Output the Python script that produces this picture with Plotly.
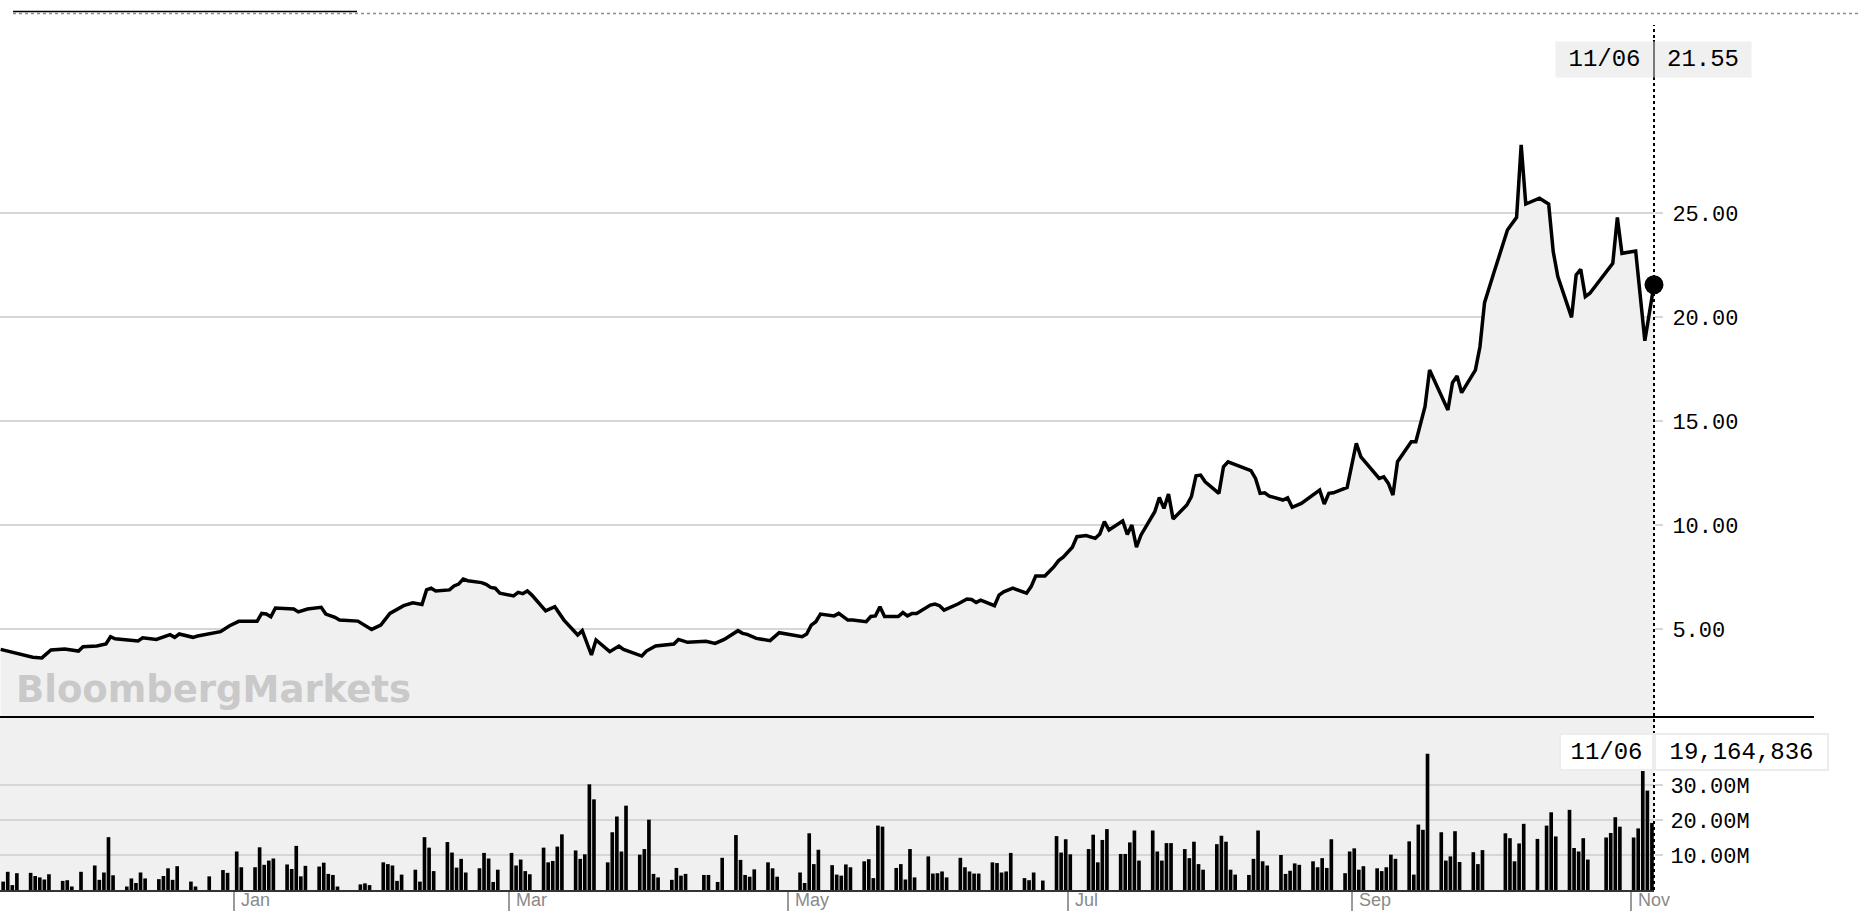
import plotly.graph_objects as go
import numpy as np
import pandas as pd

# ---------------- data ----------------
price_dates = [
    "2019-11-11", "2019-11-13", "2019-11-18", "2019-11-20", "2019-11-22", "2019-11-25", "2019-11-28", "2019-11-29",
    "2019-12-02", "2019-12-04", "2019-12-05", "2019-12-06", "2019-12-09", "2019-12-11", "2019-12-12", "2019-12-15",
    "2019-12-18", "2019-12-19", "2019-12-20", "2019-12-23", "2019-12-24", "2019-12-29", "2019-12-31",
    "2020-01-02", "2020-01-06", "2020-01-07", "2020-01-08", "2020-01-09", "2020-01-10", "2020-01-14", "2020-01-15",
    "2020-01-17", "2020-01-20", "2020-01-21", "2020-01-23", "2020-01-24", "2020-01-28", "2020-01-31",
    "2020-02-02", "2020-02-04", "2020-02-07", "2020-02-09", "2020-02-11", "2020-02-12", "2020-02-13", "2020-02-14",
    "2020-02-17", "2020-02-18", "2020-02-19", "2020-02-20", "2020-02-21", "2020-02-24", "2020-02-25", "2020-02-26",
    "2020-02-27", "2020-02-28",
    "2020-03-02", "2020-03-03", "2020-03-04", "2020-03-05", "2020-03-06", "2020-03-09", "2020-03-11", "2020-03-13",
    "2020-03-16", "2020-03-17", "2020-03-19", "2020-03-20", "2020-03-23", "2020-03-25", "2020-03-26", "2020-03-30",
    "2020-03-31",
    "2020-04-02", "2020-04-06", "2020-04-07", "2020-04-09", "2020-04-13", "2020-04-15", "2020-04-17", "2020-04-20",
    "2020-04-21", "2020-04-22", "2020-04-24", "2020-04-27", "2020-04-29",
    "2020-05-04", "2020-05-05", "2020-05-06", "2020-05-07", "2020-05-08", "2020-05-11", "2020-05-12", "2020-05-14",
    "2020-05-15", "2020-05-18", "2020-05-19", "2020-05-20", "2020-05-21", "2020-05-22", "2020-05-25", "2020-05-26",
    "2020-05-27", "2020-05-28", "2020-05-29",
    "2020-06-01", "2020-06-02", "2020-06-03", "2020-06-04", "2020-06-07", "2020-06-09", "2020-06-10", "2020-06-11",
    "2020-06-12", "2020-06-15", "2020-06-16", "2020-06-17", "2020-06-19", "2020-06-22", "2020-06-23", "2020-06-24",
    "2020-06-26", "2020-06-28", "2020-06-29", "2020-06-30",
    "2020-07-02", "2020-07-03", "2020-07-05", "2020-07-07", "2020-07-08", "2020-07-09", "2020-07-10", "2020-07-13",
    "2020-07-14", "2020-07-15", "2020-07-16", "2020-07-17", "2020-07-20", "2020-07-21", "2020-07-22", "2020-07-23",
    "2020-07-24", "2020-07-27", "2020-07-28", "2020-07-29", "2020-07-30", "2020-07-31",
    "2020-08-03", "2020-08-04", "2020-08-05", "2020-08-10", "2020-08-11", "2020-08-12", "2020-08-13", "2020-08-14",
    "2020-08-17", "2020-08-18", "2020-08-19", "2020-08-21", "2020-08-25", "2020-08-26", "2020-08-27", "2020-08-28",
    "2020-08-31",
    "2020-09-02", "2020-09-03", "2020-09-07", "2020-09-08", "2020-09-09", "2020-09-10", "2020-09-11", "2020-09-14",
    "2020-09-15", "2020-09-17", "2020-09-18", "2020-09-22", "2020-09-23", "2020-09-24", "2020-09-25", "2020-09-28",
    "2020-09-29", "2020-09-30",
    "2020-10-02", "2020-10-05", "2020-10-07", "2020-10-08", "2020-10-09", "2020-10-12", "2020-10-14", "2020-10-15",
    "2020-10-16", "2020-10-19", "2020-10-20", "2020-10-21", "2020-10-22", "2020-10-23", "2020-10-28", "2020-10-29",
    "2020-10-30",
    "2020-11-02", "2020-11-04", "2020-11-06",
]
price_values = [
    4.02, 3.91, 3.64, 3.61, 3.99, 4.04, 3.94, 4.15,
    4.18, 4.28, 4.63, 4.53, 4.47, 4.42, 4.58, 4.50,
    4.73, 4.60, 4.76, 4.60, 4.66, 4.87, 5.16,
    5.37, 5.37, 5.75, 5.72, 5.59, 6.01, 5.96, 5.82,
    5.96, 6.04, 5.72, 5.56, 5.43, 5.38, 4.98,
    5.19, 5.75, 6.12, 6.26, 6.18, 6.88, 6.96, 6.83,
    6.88, 7.07, 7.16, 7.40, 7.32, 7.23, 7.15, 7.00,
    6.96, 6.72,
    6.59, 6.76, 6.70, 6.83, 6.63, 5.87, 6.07, 5.43,
    4.71, 4.92, 3.75, 4.47, 3.91, 4.18, 4.02, 3.70,
    3.94,
    4.18, 4.28, 4.50, 4.36, 4.41, 4.31, 4.50, 4.92,
    4.79, 4.74, 4.55, 4.44, 4.82,
    4.63, 4.76, 5.19, 5.35, 5.72, 5.63, 5.75, 5.43,
    5.43, 5.35, 5.60, 5.63, 6.07, 5.60, 5.60, 5.79,
    5.63, 5.75, 5.75,
    6.15, 6.20, 6.12, 5.91, 6.20, 6.44, 6.42, 6.28,
    6.39, 6.12, 6.63, 6.79, 6.96, 6.72, 7.04, 7.55,
    7.55, 8.00, 8.29, 8.45,
    8.93, 9.44, 9.49, 9.36, 9.57, 10.16, 9.76, 10.19,
    9.55, 10.00, 8.93, 9.52, 10.64, 11.32, 10.80, 11.49,
    10.29, 10.96, 11.36, 12.37, 12.40, 12.08,
    11.52, 12.80, 13.04, 12.61, 12.24, 11.52, 11.55, 11.39,
    11.20, 11.31, 10.85, 11.04, 11.68, 11.01, 11.52, 11.55,
    11.81,
    13.93, 13.28, 12.24, 12.32, 12.00, 11.44, 13.04, 14.00,
    14.00, 15.69, 17.45, 15.53, 16.84, 17.16, 16.36, 17.45,
    18.57, 20.69,
    22.10, 24.18, 24.79, 28.27, 25.43, 25.71, 25.43, 23.14,
    21.94, 19.98, 22.02, 22.29, 20.98, 21.14, 22.58, 24.79,
    23.06,
    23.17, 18.86, 21.55,
]

volume_dates = [
    "2019-11-12", "2019-11-13", "2019-11-14", "2019-11-15",
    "2019-11-18", "2019-11-19", "2019-11-20", "2019-11-21", "2019-11-22",
    "2019-11-25", "2019-11-26", "2019-11-27", "2019-11-29",
    "2019-12-02", "2019-12-03", "2019-12-04", "2019-12-05", "2019-12-06",
    "2019-12-09", "2019-12-10", "2019-12-11", "2019-12-12", "2019-12-13",
    "2019-12-16", "2019-12-17", "2019-12-18", "2019-12-19", "2019-12-20",
    "2019-12-23", "2019-12-24", "2019-12-27",
    "2019-12-30", "2019-12-31", "2020-01-02", "2020-01-03",
    "2020-01-06", "2020-01-07", "2020-01-08", "2020-01-09", "2020-01-10",
    "2020-01-13", "2020-01-14", "2020-01-15", "2020-01-16", "2020-01-17",
    "2020-01-20", "2020-01-21", "2020-01-22", "2020-01-23", "2020-01-24",
    "2020-01-29", "2020-01-30", "2020-01-31",
    "2020-02-03", "2020-02-04", "2020-02-05", "2020-02-06", "2020-02-07",
    "2020-02-10", "2020-02-11", "2020-02-12", "2020-02-13", "2020-02-14",
    "2020-02-17", "2020-02-18", "2020-02-19", "2020-02-20", "2020-02-21",
    "2020-02-24", "2020-02-25", "2020-02-26", "2020-02-27", "2020-02-28",
    "2020-03-02", "2020-03-03", "2020-03-04", "2020-03-05", "2020-03-06",
    "2020-03-09", "2020-03-10", "2020-03-11", "2020-03-12", "2020-03-13",
    "2020-03-16", "2020-03-17", "2020-03-18", "2020-03-19", "2020-03-20",
    "2020-03-23", "2020-03-24", "2020-03-25", "2020-03-26", "2020-03-27",
    "2020-03-30", "2020-03-31", "2020-04-01", "2020-04-02", "2020-04-03",
    "2020-04-06", "2020-04-07", "2020-04-08", "2020-04-09",
    "2020-04-13", "2020-04-14", "2020-04-16", "2020-04-17",
    "2020-04-20", "2020-04-21", "2020-04-22", "2020-04-23", "2020-04-24",
    "2020-04-27", "2020-04-28", "2020-04-29",
    "2020-05-04", "2020-05-05", "2020-05-06", "2020-05-07", "2020-05-08",
    "2020-05-11", "2020-05-12", "2020-05-13", "2020-05-14", "2020-05-15",
    "2020-05-18", "2020-05-19", "2020-05-20", "2020-05-21", "2020-05-22",
    "2020-05-25", "2020-05-26", "2020-05-27", "2020-05-28", "2020-05-29",
    "2020-06-01", "2020-06-02", "2020-06-03", "2020-06-04", "2020-06-05",
    "2020-06-08", "2020-06-09", "2020-06-10", "2020-06-11", "2020-06-12",
    "2020-06-15", "2020-06-16", "2020-06-17", "2020-06-18", "2020-06-19",
    "2020-06-22", "2020-06-23", "2020-06-24", "2020-06-26",
    "2020-06-29", "2020-06-30", "2020-07-01", "2020-07-02",
    "2020-07-06", "2020-07-07", "2020-07-08", "2020-07-09", "2020-07-10",
    "2020-07-13", "2020-07-14", "2020-07-15", "2020-07-16", "2020-07-17",
    "2020-07-20", "2020-07-21", "2020-07-22", "2020-07-23", "2020-07-24",
    "2020-07-27", "2020-07-28", "2020-07-29", "2020-07-30", "2020-07-31",
    "2020-08-03", "2020-08-04", "2020-08-05", "2020-08-06", "2020-08-07",
    "2020-08-10", "2020-08-11", "2020-08-12", "2020-08-13", "2020-08-14",
    "2020-08-17", "2020-08-18", "2020-08-19", "2020-08-20", "2020-08-21",
    "2020-08-24", "2020-08-25", "2020-08-26", "2020-08-27", "2020-08-28",
    "2020-08-31", "2020-09-01", "2020-09-02", "2020-09-03", "2020-09-04",
    "2020-09-07", "2020-09-08", "2020-09-09", "2020-09-10", "2020-09-11",
    "2020-09-14", "2020-09-15", "2020-09-16", "2020-09-17", "2020-09-18",
    "2020-09-21", "2020-09-22", "2020-09-23", "2020-09-24", "2020-09-25",
    "2020-09-28", "2020-09-29", "2020-09-30",
    "2020-10-05", "2020-10-06", "2020-10-07", "2020-10-08", "2020-10-09",
    "2020-10-12", "2020-10-14", "2020-10-15", "2020-10-16",
    "2020-10-19", "2020-10-20", "2020-10-21", "2020-10-22", "2020-10-23",
    "2020-10-27", "2020-10-28", "2020-10-29", "2020-10-30",
    "2020-11-02", "2020-11-03", "2020-11-04", "2020-11-05", "2020-11-06",
]
volume_millions = [
    2.4, 5.2, 1.4, 4.8,
    4.9, 4.0, 3.6, 3.0, 4.5,
    2.6, 2.8, 1.0, 5.2,
    7.0, 2.9, 5.0, 15.1, 4.2,
    1.0, 3.3, 2.0, 5.0, 3.3,
    3.1, 4.0, 6.2, 2.9, 6.8,
    2.4, 1.0, 3.9,
    5.7, 4.9, 11.0, 6.5,
    6.5, 12.2, 7.2, 8.4, 9.0,
    7.3, 6.0, 12.6, 3.9, 6.9,
    6.7, 7.8, 4.6, 4.3, 1.0,
    1.6, 1.9, 1.4,
    7.9, 7.4, 7.0, 2.6, 4.4,
    5.8, 2.4, 15.1, 12.1, 5.4,
    13.7, 10.7, 6.4, 8.9, 5.0,
    6.2, 10.6, 9.0, 2.3, 5.8,
    10.6, 7.0, 8.7, 5.4, 4.5,
    12.1, 7.9, 8.3, 12.4, 15.9,
    11.3, 8.9, 10.2, 30.2, 25.9,
    7.9, 16.5, 21.0, 11.0, 24.1,
    10.1, 11.7, 20.1, 4.6, 3.6,
    2.9, 6.3, 4.1, 4.6,
    4.3, 4.3, 2.3, 9.2,
    15.7, 8.6, 4.3, 3.8, 5.9,
    7.9, 6.2, 3.8,
    5.0, 2.0, 16.2, 7.4, 11.5,
    7.1, 4.4, 4.1, 7.3, 6.5,
    8.2, 8.8, 3.4, 18.4, 18.1,
    6.3, 7.4, 3.0, 11.7, 3.6,
    9.6, 4.7, 4.8, 5.3, 3.6,
    9.2, 6.5, 5.3, 4.7, 4.7,
    7.9, 7.7, 5.0, 5.3, 10.6,
    3.4, 2.8, 5.0, 2.7,
    15.4, 10.7, 14.5, 10.2,
    11.7, 15.8, 7.9, 14.3, 17.4,
    10.3, 10.3, 13.6, 17.0, 8.4,
    17.0, 11.0, 8.4, 13.4, 13.4,
    11.7, 9.1, 13.8, 7.4, 5.8,
    13.1, 15.5, 13.8, 5.8, 4.4,
    4.3, 8.9, 17.0, 8.2, 7.0,
    10.0, 4.6, 5.5, 7.6, 7.2,
    8.2, 6.5, 9.1, 6.3, 14.5,
    4.8, 11.0, 11.9, 5.8, 6.8,
    6.2, 5.4, 6.5, 10.1, 8.9,
    13.9, 4.4, 18.7, 17.2, 38.9,
    16.5, 8.4, 9.6, 16.8, 8.0,
    10.8, 7.4, 11.4,
    16.2, 14.8, 8.2, 13.3, 18.9,
    14.6, 18.4, 22.2, 15.3,
    22.9, 12.0, 11.0, 14.8, 8.7,
    15.0, 16.3, 20.8, 18.1,
    15.0, 17.6, 34.4, 28.4, 19.164836,
]

month_ticks = ["2020-01-01", "2020-03-01", "2020-05-01", "2020-07-01", "2020-09-01", "2020-11-01"]
month_labels = ["Jan", "Mar", "May", "Jul", "Sep", "Nov"]
price_ticks = [5, 10, 15, 20, 25]
volume_ticks_millions = [10, 20, 30]

# ---------------- layout geometry ----------------
W, H = 1858, 920
ML, MR, MT, MB = 0, 204, 16, 30
PW = W - ML - MR
PH = H - MT - MB
BOTTOM = H - MB


def px_x(x):
    return (x - ML) / PW


def px_y(y):
    return (BOTTOM - y) / PH


split = px_y(717)          # border between price and volume panels
DAY_MS = 86400000

volume = np.array(volume_millions) * 1e6
last_date = pd.Timestamp(price_dates[-1])
x_start = last_date - pd.Timedelta(days=PW / 4.58)

fig = go.Figure()

fig.add_trace(go.Scatter(
    x=price_dates, y=price_values, mode="lines",
    line=dict(color="black", width=3.5),
    fill="tozeroy", fillcolor="#f0f0f0",
    xaxis="x", yaxis="y", hoverinfo="skip",
))
fig.add_trace(go.Scatter(
    x=[price_dates[-1]], y=[price_values[-1]], mode="markers",
    marker=dict(color="black", size=19), cliponaxis=False,
    xaxis="x", yaxis="y", hoverinfo="skip",
))
fig.add_trace(go.Bar(
    x=volume_dates, y=volume, marker=dict(color="black", line=dict(width=0)),
    width=0.8 * DAY_MS, offset=-0.85 * DAY_MS,
    xaxis="x", yaxis="y2", hoverinfo="skip",
))

mono = "Liberation Mono"
grid = "#d6d6d6"

fig.update_layout(
    width=W, height=H,
    margin=dict(l=ML, r=MR, t=MT, b=MB, pad=0),
    paper_bgcolor="white", plot_bgcolor="white",
    showlegend=False,
    xaxis=dict(
        type="date", range=[x_start, last_date], domain=[0, 1], anchor="y2",
        showgrid=False, zeroline=False,
        showline=True, linecolor="#333333", linewidth=2,
        ticks="outside", ticklen=19, tickwidth=2, tickcolor="#9a9a9a",
        tickvals=month_ticks, showticklabels=False,
    ),
    yaxis=dict(
        domain=[split, 1], anchor="x", side="right",
        range=[(733 - 717) / 20.8, (733 - MT) / 20.8],
        tickvals=price_ticks, ticktext=[f"{v:.2f}" for v in price_ticks],
        ticks="outside", ticklen=8, tickwidth=1.5, tickcolor=grid,
        showgrid=True, gridcolor=grid, gridwidth=1.5,
        showline=False, zeroline=False,
        tickfont=dict(family=mono, size=22, color="black"),
        ticklabelstandoff=5,
    ),
    yaxis2=dict(
        domain=[0, split], anchor="x", side="right",
        range=[0, (BOTTOM - 717) / 3.5 * 1e6],
        tickvals=[v * 1e6 for v in volume_ticks_millions],
        ticktext=[f"{v:.2f}M" for v in volume_ticks_millions],
        ticks="outside", ticklen=8, tickwidth=1.5, tickcolor=grid,
        showgrid=True, gridcolor=grid, gridwidth=1.5,
        showline=False, zeroline=False,
        tickfont=dict(family=mono, size=22, color="black"),
        ticklabelstandoff=3,
    ),
)

shapes = [
    # volume panel background
    dict(type="rect", xref="paper", yref="paper", x0=0, x1=1, y0=0, y1=split,
         fillcolor="#f0f0f0", line=dict(width=0), layer="below"),
    # panel separator
    dict(type="line", xref="paper", yref="paper", x0=0, x1=px_x(1814), y0=split, y1=split,
         line=dict(color="black", width=2)),
    # header lines
    dict(type="line", xref="paper", yref="paper", x0=px_x(13), x1=px_x(1858), y0=px_y(13.5), y1=px_y(13.5),
         line=dict(color="#8c8c8c", width=1.5, dash="dot")),
    dict(type="line", xref="paper", yref="paper", x0=px_x(13), x1=px_x(357), y0=px_y(11.5), y1=px_y(11.5),
         line=dict(color="black", width=1.5)),
    # crosshair
    dict(type="line", xref="paper", yref="paper", x0=1, x1=1, y0=0, y1=px_y(25),
         line=dict(color="black", width=2, dash="dot")),
]

# hover-style labels
date_label = last_date.strftime("%m/%d")
price_label = f"{price_values[-1]:.2f}"
vol_label = f"{int(round(volume[-1])):,}"

ann = []
ann.append(dict(xref="paper", yref="paper", x=1, y=px_y(59.5), xanchor="right", yanchor="middle",
                text=date_label, showarrow=False, bgcolor="#f0f0f0", borderpad=2, width=93, height=31,
                align="center", font=dict(family=mono, size=24, color="black")))
ann.append(dict(xref="paper", yref="paper", x=1, y=px_y(59.5), xanchor="left", yanchor="middle",
                text=price_label, showarrow=False, bgcolor="#f0f0f0", borderpad=2, width=92, height=31,
                align="center", font=dict(family=mono, size=24, color="black")))
ann.append(dict(xref="paper", yref="paper", x=1, y=px_y(752), xanchor="right", yanchor="middle",
                text=date_label, showarrow=False, bgcolor="white", bordercolor="#ececec", borderwidth=2,
                borderpad=1, width=89, height=32, align="center",
                font=dict(family=mono, size=24, color="black")))
ann.append(dict(xref="paper", yref="paper", x=1, y=px_y(752), xanchor="left", yanchor="middle",
                text=vol_label, showarrow=False, bgcolor="white", bordercolor="#ececec", borderwidth=2,
                borderpad=1, width=169, height=32, align="center",
                font=dict(family=mono, size=24, color="black")))
# month labels, placed just right of each month tick
for d, lab in zip(month_ticks, month_labels):
    ann.append(dict(xref="x", yref="paper", x=d, y=px_y(900), xanchor="left", yanchor="middle",
                    xshift=5, text=lab, showarrow=False,
                    font=dict(family="Liberation Sans", size=18, color="#8a8a8a")))
# watermark
ann.append(dict(xref="paper", yref="paper", x=px_x(14), y=px_y(689), xanchor="left", yanchor="middle",
                text="BloombergMarkets", showarrow=False,
                font=dict(family="DejaVu Sans", size=37, weight="bold", color="#c9c9c9")))

# separators inside the labels
shapes.append(dict(type="line", xref="paper", yref="paper", x0=1, x1=1, y0=px_y(77), y1=px_y(40),
                   line=dict(color="black", width=2)))
shapes.append(dict(type="line", xref="paper", yref="paper", x0=1, x1=1, y0=px_y(769), y1=px_y(737),
                   line=dict(color="black", width=2)))

fig.update_layout(shapes=shapes, annotations=ann)

fig.write_html("out.html", config={"displayModeBar": False},
               post_script="document.body.style.margin='0';document.body.style.overflow='hidden';")
